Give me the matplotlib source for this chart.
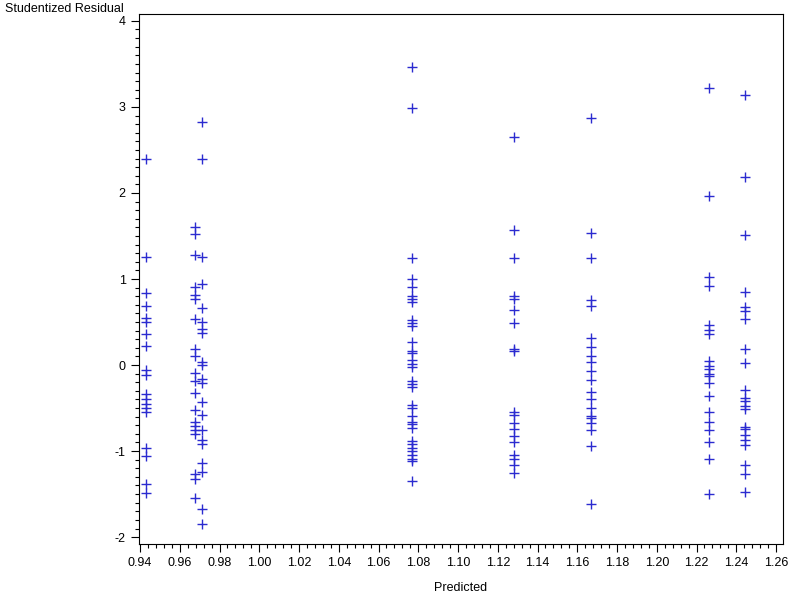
import matplotlib
matplotlib.use("Agg")
import matplotlib.pyplot as plt
from matplotlib.ticker import MultipleLocator, FormatStrFormatter

plt.rcParams['font.family'] = ['Liberation Sans', 'DejaVu Sans']
plt.rcParams['axes.unicode_minus'] = False

x_groups = [0.9432, 0.9678, 0.9713, 1.0766, 1.1283, 1.1668, 1.2263, 1.2446]
res_g1 = [2.40, 1.25, 0.84, 0.69, 0.55, 0.50, 0.36, 0.22, -0.06, -0.11, -0.34, -0.40,
          -0.45, -0.50, -0.55, -0.96, -1.06, -1.38, -1.49]
res_g2 = [1.61, 1.52, 1.28, 0.91, 0.81, 0.77, 0.53, 0.19, 0.10, -0.09, -0.19, -0.32,
          -0.52, -0.66, -0.71, -0.75, -0.80, -1.27, -1.32, -1.55]
res_g3 = [2.83, 2.40, 1.26, 0.94, 0.66, 0.50, 0.42, 0.37, 0.04, 0.00, -0.16, -0.21,
          -0.43, -0.58, -0.75, -0.87, -0.92, -1.14, -1.24, -1.67, -1.85]
res_g4 = [3.46, 2.99, 1.24, 1.00, 0.91, 0.80, 0.77, 0.73, 0.52, 0.49, 0.45, 0.27, 0.16,
          0.14, 0.06, 0.01, -0.02, -0.19, -0.22, -0.26, -0.47, -0.50, -0.59, -0.66,
          -0.69, -0.73, -0.88, -0.92, -0.96, -1.00, -1.05, -1.09, -1.11, -1.35]
res_g5 = [2.65, 1.57, 1.24, 0.80, 0.77, 0.64, 0.49, 0.19, 0.16, -0.55, -0.58, -0.67,
          -0.74, -0.83, -0.90, -1.05, -1.09, -1.16, -1.26]
res_g6 = [2.87, 1.53, 1.24, 0.76, 0.69, 0.32, 0.21, 0.11, 0.03, -0.07, -0.17, -0.31,
          -0.40, -0.50, -0.59, -0.62, -0.67, -0.76, -0.94, -1.62]
res_g7 = [3.22, 1.96, 1.02, 0.92, 0.46, 0.41, 0.36, 0.05, -0.01, -0.05, -0.10, -0.13,
          -0.21, -0.36, -0.55, -0.66, -0.76, -0.90, -1.09, -1.50]
res_g8 = [3.14, 2.19, 1.51, 0.85, 0.67, 0.63, 0.53, 0.19, 0.02, -0.29, -0.38, -0.42,
          -0.48, -0.51, -0.72, -0.74, -0.81, -0.87, -0.93, -1.16, -1.27, -1.47]
residual_groups = [res_g1, res_g2, res_g3, res_g4, res_g5, res_g6, res_g7, res_g8]

x_ticks = [0.94 + 0.02 * i for i in range(17)]
y_ticks = [-2, -1, 0, 1, 2, 3, 4]

fig = plt.figure(figsize=(8, 6), dpi=100)
ax = fig.add_axes([139/800, 1 - 544/600, (783 - 139)/800, (544 - 14)/600])

color = '#2b2bd0'
for xv, ys in zip(x_groups, residual_groups):
    ax.plot([xv] * len(ys), ys, linestyle='none', marker='+', markersize=6.5,
            markeredgewidth=1.0, color=color)

ax.set_xlim(0.9395, 1.2635)
ax.set_ylim(-2.08, 4.08)
ax.set_xticks(x_ticks)
ax.xaxis.set_major_formatter(FormatStrFormatter('%.2f'))
ax.xaxis.set_minor_locator(MultipleLocator(0.004))
ax.set_yticks(y_ticks)
ax.yaxis.set_minor_locator(MultipleLocator(0.1))
ax.tick_params(which='major', direction='out', length=6, width=0.8, labelsize=9,
               colors='black')
ax.tick_params(which='minor', direction='out', length=3, width=0.8)
for s in ax.spines.values():
    s.set_linewidth(0.8)

fig.text(5/800, 1 - 9/600, 'Studentized Residual', fontsize=9, ha='left', va='center')
fig.text(461/800, 1 - 588/600, 'Predicted', fontsize=9, ha='center', va='center')

fig.savefig('out.png', dpi=100)
